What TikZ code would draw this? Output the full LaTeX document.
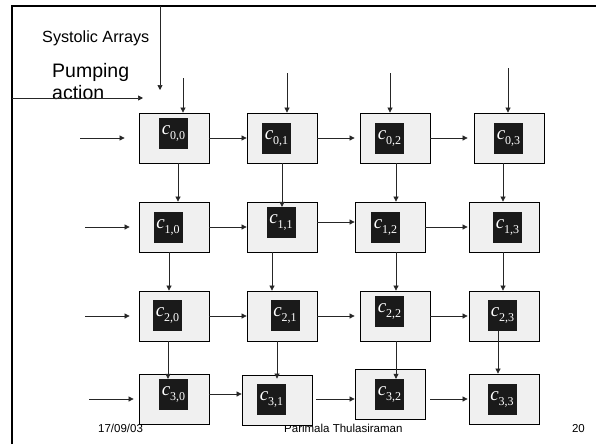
\documentclass[tikz,border=0pt]{standalone}
\usepackage{fontspec}
\setmainfont{Liberation Sans}
\newfontfamily\tnr{Liberation Serif}
\usetikzlibrary{arrows.meta,calc}
\newcommand\celllab[2]{{\tnr\fontsize{19}{19}\selectfont\textit{c}}\raisebox{-5pt}{\tnr\fontsize{12}{12}\selectfont #1,#2}}
\definecolor{boxfill}{HTML}{F0F0F0}
\definecolor{blkfill}{HTML}{1A1A1A}
\begin{document}
\begin{tikzpicture}[x=1pt,y=-1pt,
  pe/.style={draw=black,line width=0.8pt,fill=boxfill,minimum width=70pt,minimum height=50pt,inner sep=0pt},
  blk/.style={fill=blkfill,minimum width=29pt,minimum height=31pt,inner sep=0pt,text=white},
  arr/.style={-{Triangle[length=5pt,width=5pt]},line width=0.7pt,draw=black!85},
  lbl/.style={anchor=base west,inner sep=0pt}]
\fill[white] (0,0) rectangle (596,444);
\useasboundingbox (0,0) rectangle (596,444);
% frame
\draw[line width=2pt] (12,444) -- (12,6) -- (596,6);
% texts
\node[lbl,font=\fontsize{16.2}{19}\selectfont] (title) at (42,42.5) {Systolic Arrays};
\node[lbl,font=\fontsize{19.5}{22}\selectfont] (pump) at (52,77) {Pumping};
\node[lbl,font=\fontsize{19.5}{22}\selectfont] (act) at (52,99) {action};
\node[lbl,font=\fontsize{11.5}{13}\selectfont] (date) at (98,432) {17/09/03};
\node[lbl,font=\fontsize{11.5}{13}\selectfont] (auth) at (284,432) {Parimala Thulasiraman};
\node[anchor=base east,inner sep=0pt,font=\fontsize{11.5}{13}\selectfont] (pg) at (585,432) {20};
% pumping arrows
\coordinate (p1) at (160,6); \coordinate (p2) at (160,90);
\coordinate (q1) at (12,98); \coordinate (q2) at (143,98);
\draw[arr] (p1) -- (p2);
\draw[arr] (q1) -- (q2);
% boxes
\node[pe] (b00) at (174,138) {}; \node[pe] (b01) at (282,138) {}; \node[pe] (b02) at (395,138) {}; \node[pe] (b03) at (509,138) {};
\node[pe] (b10) at (174,227) {}; \node[pe] (b11) at (282,227) {}; \node[pe] (b12) at (390,227) {}; \node[pe] (b13) at (504,227) {};
\node[pe] (b20) at (174,316) {}; \node[pe] (b21) at (282,316) {}; \node[pe] (b22) at (395,316) {}; \node[pe] (b23) at (504,316) {};
\node[pe] (b30) at (174,399) {}; \node[pe] (b31) at (277,400) {}; \node[pe] (b32) at (390,394) {}; \node[pe] (b33) at (504,399) {};
% black labels
\node[blk] (k00) at (173.5,133.5) {\celllab00}; \node[blk] (k01) at (276.5,138.5) {\celllab01};
\node[blk] (k02) at (389.5,138.5) {\celllab02}; \node[blk] (k03) at (508.5,138.5) {\celllab03};
\node[blk] (k10) at (168,227.5) {\celllab10}; \node[blk] (k11) at (281,222.5) {\celllab11};
\node[blk] (k12) at (385.5,227.5) {\celllab12}; \node[blk] (k13) at (507.5,227.5) {\celllab13};
\node[blk] (k20) at (167.5,315.5) {\celllab20}; \node[blk] (k21) at (285,315.5) {\celllab21};
\node[blk] (k22) at (389.5,311.5) {\celllab22}; \node[blk] (k23) at (502.5,315.5) {\celllab23};
\node[blk] (k30) at (173.5,394.5) {\celllab30}; \node[blk] (k31) at (271.5,399.5) {\celllab31};
\node[blk] (k32) at (389.5,394.5) {\celllab32}; \node[blk] (k33) at (502,399.5) {\celllab33};
% top inputs
\coordinate (t0) at (183,78); \coordinate (t1) at (287,73); \coordinate (t2) at (390,73); \coordinate (t3) at (508,68);
\draw[arr] (t0) -- (t0 |- b00.north);
\draw[arr] (t1) -- (t1 |- b01.north);
\draw[arr] (t2) -- (t2 |- b02.north);
\draw[arr] (t3) -- (t3 |- b03.north);
% left inputs
\coordinate (l0) at (80,138); \coordinate (l1) at (85,227); \coordinate (l2) at (85,316); \coordinate (l3) at (89,399);
\draw[arr] (l0) -- ([xshift=-14pt]l0 -| b00.west);
\draw[arr] (l1) -- ([xshift=-9pt]l1 -| b10.west);
\draw[arr] (l2) -- ([xshift=-9pt]l2 -| b20.west);
\draw[arr] (l3) -- ([xshift=-5pt]l3 -| b30.west);
% horizontal
\draw[arr] (b00.east) -- (b00.east -| b01.west);
\draw[arr] (b01.east) -- ([xshift=-5pt]b01.east -| b02.west);
\draw[arr] (b02.east) -- ([xshift=-6pt]b02.east -| b03.west);
\draw[arr] (b10.east) -- (b10.east -| b11.west);
\draw[arr] ([yshift=5pt]b11.east) -- ([yshift=5pt]b11.east -| b12.west);
\draw[arr] (b12.east) -- ([xshift=-1pt]b12.east -| b13.west);
\draw[arr] (b20.east) -- (b20.east -| b21.west);
\draw[arr] (b21.east) -- ([xshift=-5pt]b21.east -| b22.west);
\draw[arr] (b22.east) -- ([xshift=-1pt]b22.east -| b23.west);
\draw[arr] ([yshift=5pt]b30.east) -- ([yshift=5pt]b30.east -| b31.west);
\draw[arr] ([xshift=4pt,yshift=1pt]b31.east) -- ([yshift=1pt]b31.east -| b32.west);
\draw[arr] ([xshift=5pt,yshift=-5pt]b32.east) -- ([xshift=-1pt,yshift=-5pt]b32.east -| b33.west);
% vertical
\draw[arr] ([xshift=4pt]b00.south) -- ([xshift=4pt]b00.south |- b10.north);
\draw[arr] ([xshift=-5pt]b10.south) -- ([xshift=-5pt]b10.south |- b20.north);
\draw[arr] ([xshift=-6pt]b20.south) -- ([xshift=-6pt]b20.south |- k30.north);
\draw[arr] (b01.south) -- (b01.south |- k11.north);
\draw[arr] ([xshift=-10pt]b11.south) -- ([xshift=-10pt]b11.south |- b21.north);
\draw[arr] ([xshift=-5pt]b21.south) -- ([xshift=-5pt,yshift=-4pt]b21.south |- b31.north);
\draw[arr] ([xshift=1pt]b02.south) -- ([xshift=1pt]b02.south |- b12.north);
\draw[arr] ([xshift=6pt]b12.south) -- ([xshift=6pt]b12.south |- b22.north);
\draw[arr] ([xshift=1pt]b22.south) -- ([xshift=1pt]b22.south |- k32.north);
\draw[arr] ([xshift=-6pt]b03.south) -- ([xshift=-6pt]b03.south |- b13.north);
\draw[arr] ([xshift=-1pt]b13.south) -- ([xshift=-1pt]b13.south |- b23.north);
\draw[arr] ([xshift=-4.5pt]k23.south) -- ([xshift=-4.5pt]k23.south |- b33.north);
\end{tikzpicture}
\end{document}
